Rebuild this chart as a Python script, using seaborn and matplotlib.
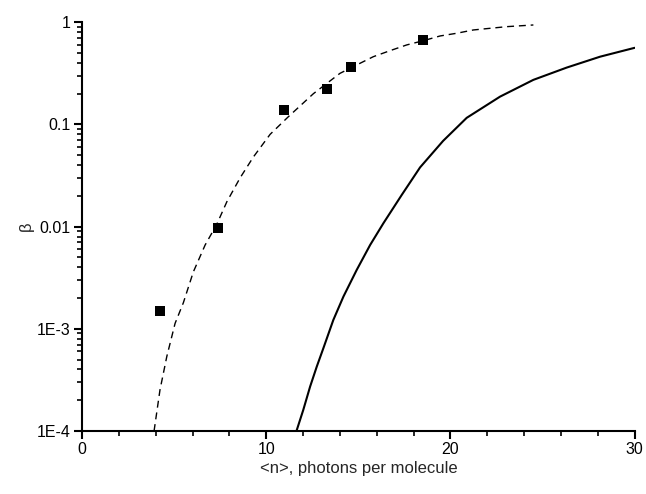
import matplotlib
matplotlib.use("Agg")
import matplotlib.pyplot as plt
import seaborn as sns
import pandas as pd
import numpy as np
from matplotlib.ticker import FixedLocator, LogLocator, NullFormatter, MultipleLocator

# Experimental points (squares)
exp_n = [4.23, 7.37, 10.98, 13.32, 14.60, 18.50]
exp_beta = [1.51e-3, 9.6e-3, 0.138, 0.222, 0.365, 0.675]

# Dashed curve (fit)
fit_n = [3.91, 4.23, 4.60, 5.05, 5.50, 6.04, 6.68, 7.31, 7.86, 8.58, 9.30,
         10.21, 11.20, 12.56, 14.0, 14.91, 15.81, 16.72, 17.63, 18.53, 19.44,
         20.34, 21.24, 23.05, 24.5]
fit_beta = [1.0e-4, 2.52e-4, 5.35e-4, 1.13e-3, 1.8e-3, 3.6e-3, 6.6e-3, 0.0105,
            0.0175, 0.030, 0.048, 0.080, 0.119, 0.20, 0.316, 0.382, 0.46,
            0.527, 0.60, 0.66, 0.734, 0.78, 0.84, 0.905, 0.94]

# Solid curve (theory)
th_n = [11.64, 12.01, 12.38, 12.74, 13.10, 13.64, 14.19, 14.91, 15.64, 16.36,
        17.36, 18.35, 19.60, 20.88, 22.69, 24.50, 26.31, 28.12, 30.0]
th_beta = [1.0e-4, 1.61e-4, 2.72e-4, 4.26e-4, 6.46e-4, 1.22e-3, 2.07e-3,
           3.77e-3, 6.62e-3, 0.0108, 0.0205, 0.038, 0.069, 0.116, 0.187,
           0.273, 0.360, 0.460, 0.562]

y_ticks = [1e-4, 1e-3, 1e-2, 1e-1, 1]
y_labels = ["1E-4", "1E-3", "0.01", "0.1", "1"]
x_ticks = [0, 10, 20, 30]

sns.set_style("ticks")
plt.rcParams["font.family"] = ["Liberation Sans", "DejaVu Sans"]

fig = plt.figure(figsize=(6.46, 4.94), dpi=100)
ax = fig.add_axes([0.127, 0.1275, 0.8555, 0.8275])

df_fit = pd.DataFrame({"n": fit_n, "beta": fit_beta})
df_th = pd.DataFrame({"n": th_n, "beta": th_beta})
df_exp = pd.DataFrame({"n": exp_n, "beta": exp_beta})

sns.lineplot(data=df_fit, x="n", y="beta", ax=ax, color="black", lw=1.0,
             linestyle=(0, (5, 3.5)), sort=True, estimator=None)
sns.lineplot(data=df_th, x="n", y="beta", ax=ax, color="black", lw=1.5,
             sort=True, estimator=None)
sns.scatterplot(data=df_exp, x="n", y="beta", ax=ax, color="black", marker="s",
                s=45, edgecolor="black", linewidth=0, zorder=5)

ax.set_yscale("log")
ax.set_xlim(0, 30)
ax.set_ylim(1e-4, 1)
ax.yaxis.set_major_locator(FixedLocator(y_ticks))
ax.set_yticklabels(y_labels)
ax.yaxis.set_minor_locator(LogLocator(base=10, subs=np.arange(2, 10)))
ax.yaxis.set_minor_formatter(NullFormatter())
ax.xaxis.set_major_locator(FixedLocator(x_ticks))
ax.xaxis.set_minor_locator(MultipleLocator(2))

for side in ["top", "right"]:
    ax.spines[side].set_visible(False)
for side in ["left", "bottom"]:
    ax.spines[side].set_linewidth(1.5)
    ax.spines[side].set_color("black")

ax.tick_params(axis="both", which="major", direction="out", length=6, width=1.5,
               labelsize=11.5, colors="black", pad=2)
ax.tick_params(axis="both", which="minor", direction="out", length=3.5, width=1.2,
               colors="black")

ax.set_xlabel("<n>, photons per molecule", fontsize=12, labelpad=3)
ax.set_ylabel("β", fontsize=12)
ax.yaxis.set_label_coords(-0.088, 0.5)

fig.savefig("out.png", dpi=100)
